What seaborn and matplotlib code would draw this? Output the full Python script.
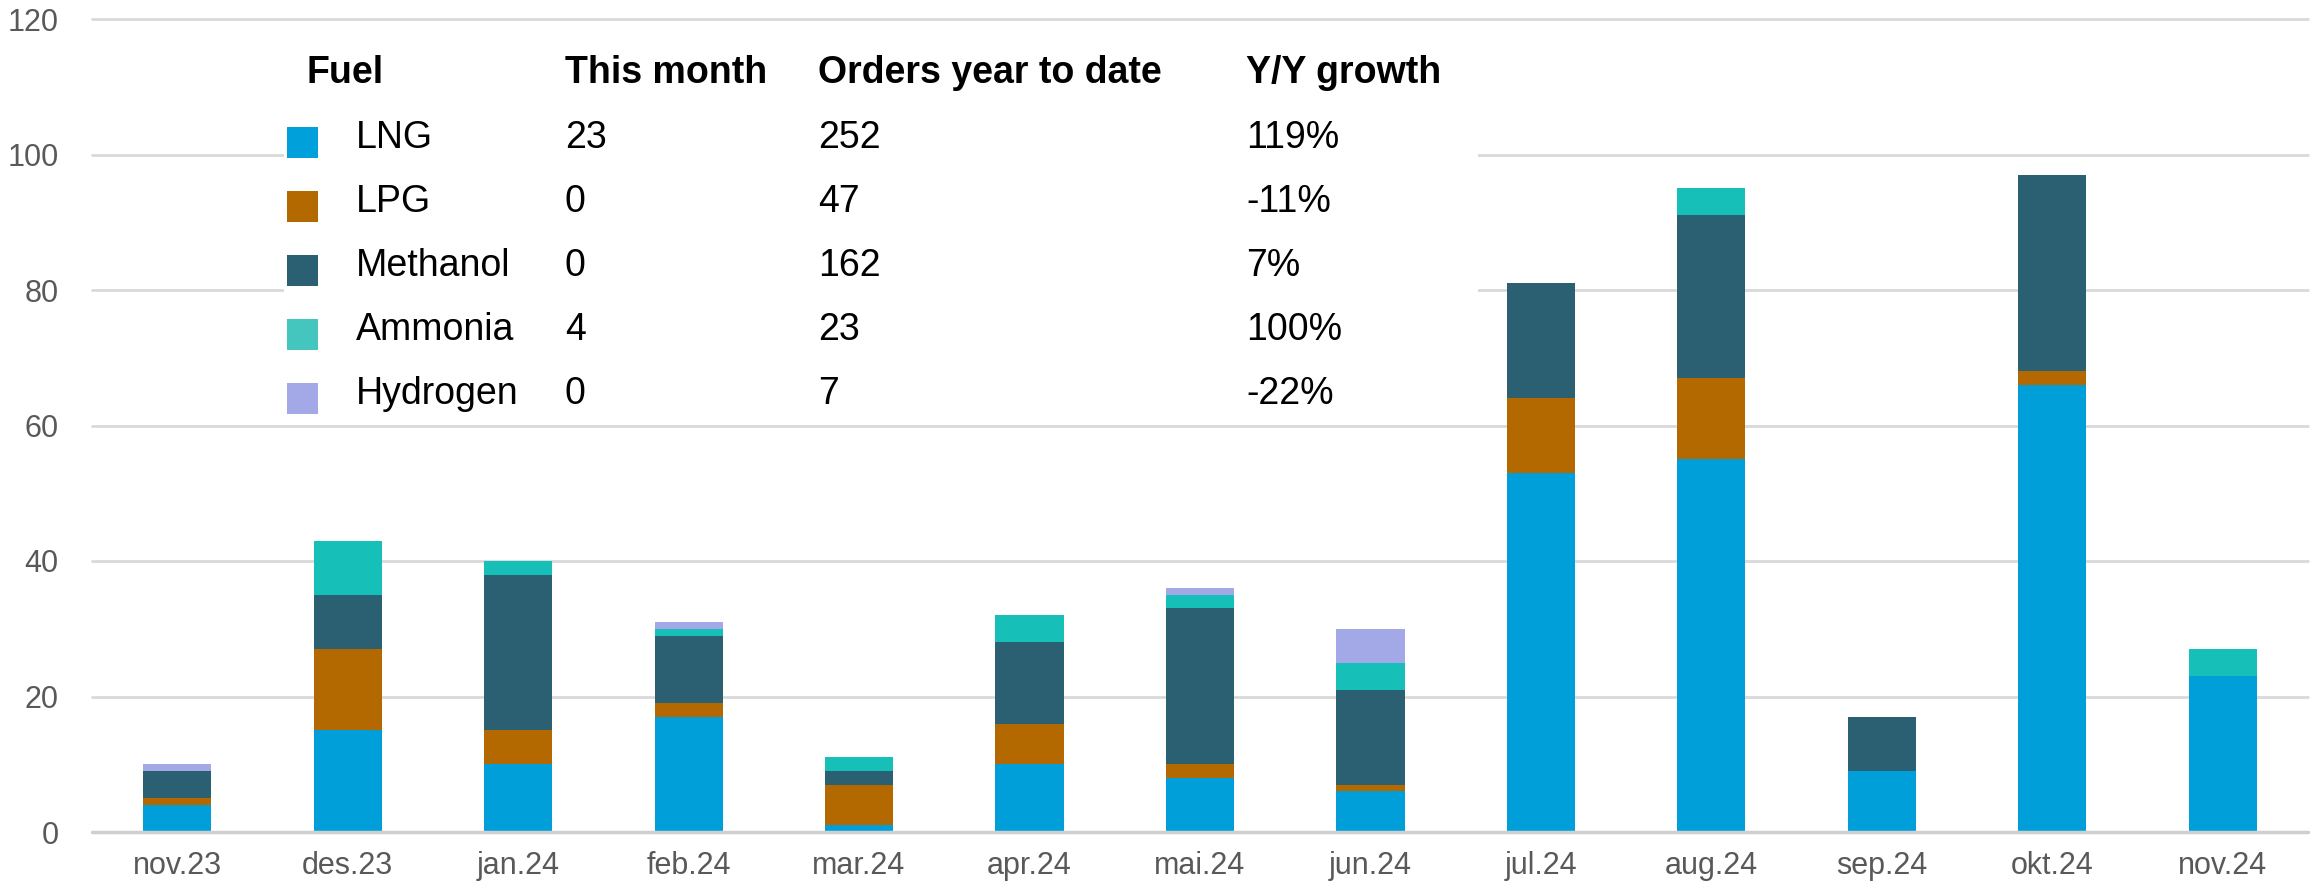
import matplotlib
matplotlib.use("Agg")
import matplotlib.pyplot as plt
from matplotlib.patches import Rectangle
import seaborn as sns
import numpy as np
import pandas as pd

months = ["nov.23", "des.23", "jan.24", "feb.24", "mar.24", "apr.24", "mai.24",
          "jun.24", "jul.24", "aug.24", "sep.24", "okt.24", "nov.24"]
fuels = ["LNG", "LPG", "Methanol", "Ammonia", "Hydrogen"]
lng      = [4, 15, 10, 17, 1, 10, 8, 6, 53, 55, 9, 66, 23]
lpg      = [1, 12, 5, 2, 6, 6, 2, 1, 11, 12, 0, 2, 0]
methanol = [4, 8, 23, 10, 2, 12, 23, 14, 17, 24, 8, 29, 0]
ammonia  = [0, 8, 2, 1, 2, 4, 2, 4, 0, 4, 0, 0, 4]
hydrogen = [1, 0, 0, 1, 0, 0, 1, 5, 0, 0, 0, 0, 0]

this_month = ["23", "0", "0", "4", "0"]
ytd = ["252", "47", "162", "23", "7"]
yoy = ["119%", "-11%", "7%", "100%", "-22%"]
headers = ["Fuel", "This month", "Orders year to date", "Y/Y growth"]
y_ticks = [0, 20, 40, 60, 80, 100, 120]

bar_colors = ["#009FD9", "#B46900", "#2B6072", "#16C0B9", "#A3A9E6"]
legend_colors = ["#00A1DA", "#B46900", "#2B6072", "#44C5BD", "#A3A9E6"]

series = [lng, lpg, methanol, ammonia, hydrogen]
df = pd.DataFrame({"month": months})
for f, s in zip(fuels, series):
    df[f] = s
cum = df[fuels].cumsum(axis=1)

sns.set_style("white")
plt.rcParams["font.family"] = ["Liberation Sans", "DejaVu Sans"]

W, H = 2320, 886
fig = plt.figure(figsize=(W / 100, H / 100), dpi=100)
ax_left, ax_right = 92 / W, 2308 / W
ax_bottom = 1 - 832 / H
ax_top = 1 - 19 / H
ax = fig.add_axes([ax_left, ax_bottom, ax_right - ax_left, ax_top - ax_bottom])

# draw cumulative layers from top to bottom so lower layers overlay
for i in range(len(fuels) - 1, -1, -1):
    sns.barplot(x=df["month"], y=cum[fuels[i]], order=months, color=bar_colors[i],
                width=0.4, errorbar=None, saturation=1, linewidth=0, ax=ax, zorder=2)

ax.set_xlim(-0.5, len(months) - 0.5)
ax.set_ylim(0, 120)
ax.set_yticks(y_ticks)
ax.set_yticklabels([str(v) for v in y_ticks])
ax.set_xlabel("")
ax.set_ylabel("")
for sp in ax.spines.values():
    sp.set_visible(False)
ax.yaxis.grid(True, color="#d9d9d9", linewidth=2, zorder=0)
ax.set_axisbelow(True)
for gl in ax.get_ygridlines():
    gl.set_clip_on(False)
ax.axhline(0, color="#cfcfcf", linewidth=2.5, zorder=3, clip_on=False)
ax.tick_params(axis="both", length=0, labelsize=22, labelcolor="#595959")
ax.tick_params(axis="x", pad=14)
ax.tick_params(axis="y", pad=24)

# legend table with white background
def fx(px):
    return px / W

def fy(py):
    return 1 - py / H

ax.add_patch(Rectangle((fx(284), fy(415)), fx(1478) - fx(284), fy(40) - fy(415),
                       transform=fig.transFigure, facecolor="white", edgecolor="none",
                       zorder=1.5, clip_on=False))

fs = 27
header_x = [306, 565, 818, 1246]
for hx, htxt in zip(header_x, headers):
    fig.text(fx(hx), fy(83), htxt, fontsize=fs, fontweight="bold", color="black",
             ha="left", va="baseline")

row_base = [148, 212, 276, 340, 404]
for i, f in enumerate(fuels):
    b = row_base[i]
    fig.patches.append(Rectangle((fx(287), fy(b + 10)), fx(318) - fx(287), fy(b - 21) - fy(b + 10),
                                 transform=fig.transFigure, facecolor=legend_colors[i],
                                 edgecolor="none", figure=fig))
    fig.text(fx(356), fy(b), f, fontsize=fs, color="black", ha="left", va="baseline")
    fig.text(fx(565), fy(b), this_month[i], fontsize=fs, color="black", ha="left", va="baseline")
    fig.text(fx(818), fy(b), ytd[i], fontsize=fs, color="black", ha="left", va="baseline")
    fig.text(fx(1246), fy(b), yoy[i], fontsize=fs, color="black", ha="left", va="baseline")

fig.savefig("out.png", dpi=100, facecolor="white")
